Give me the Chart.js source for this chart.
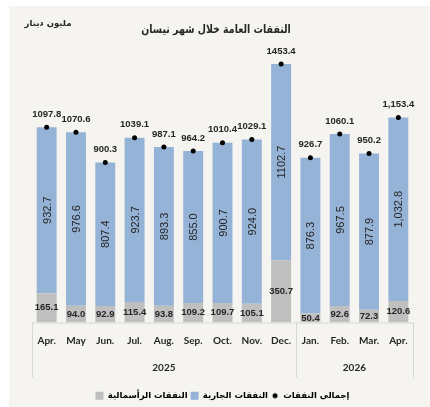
<!DOCTYPE html>
<html>
<head>
<meta charset="utf-8">
<script src="https://cdn.jsdelivr.net/npm/chart.js@4"></script>
<style>
  html, body { margin: 0; padding: 0; background: #ffffff; }
  #myChart { position: absolute; left: 0; top: 0; }
</style>
</head>
<body>
<canvas id="myChart" width="430" height="407"></canvas>
<script>
const months = ['Apr.', 'May', 'Jun.', 'Jul.', 'Aug.', 'Sep.', 'Oct.', 'Nov.', 'Dec.', 'Jan.', 'Feb.', 'Mar.', 'Apr.'];
const years = ['2025', '2026'];
const yearCounts = [9, 4];

const capital = [165.1, 94.0, 92.9, 115.4, 93.8, 109.2, 109.7, 105.1, 350.7, 50.4, 92.6, 72.3, 120.6];
const current = [932.7, 976.6, 807.4, 923.7, 893.3, 855.0, 900.7, 924.0, 1102.7, 876.3, 967.5, 877.9, 1032.8];
const total = [1097.8, 1070.6, 900.3, 1039.1, 987.1, 964.2, 1010.4, 1029.1, 1453.4, 926.7, 1060.1, 950.2, 1153.4];

const seriesNames = ['النفقات الرأسمالية', 'النفقات الجارية', 'إجمالي النفقات'];
const chartTitle = 'النفقات العامة خلال شهر نيسان';
const unitLabel = 'مليون دينار';

const BLUE = '#95b3d7';
const GREY = '#bfbfbf';
const TEXT = '#262626';
const LINE = '#d6d6d6';

// last column is written with a thousands separator in the original
function fmt(v, i) {
  if (i === months.length - 1) {
    return v.toLocaleString('en-US', { minimumFractionDigits: 1, maximumFractionDigits: 1 });
  }
  return v.toFixed(1);
}

// small dot used as legend symbol
const dotIcon = document.createElement('canvas');
dotIcon.width = 8;
dotIcon.height = 8;
(function () {
  const c = dotIcon.getContext('2d');
  c.fillStyle = '#000';
  c.beginPath();
  c.arc(4, 4, 2.5, 0, Math.PI * 2);
  c.fill();
})();

const background = {
  id: 'background',
  beforeDraw(chart) {
    const ctx = chart.ctx;
    ctx.save();
    ctx.fillStyle = '#ffffff';
    ctx.fillRect(0, 0, chart.width, chart.height);
    ctx.fillStyle = '#f5f4f0';
    ctx.fillRect(9, 6, chart.width - 9, chart.height - 6);
    ctx.fillStyle = TEXT;
    ctx.textAlign = 'center';
    ctx.textBaseline = 'middle';
    // title font in the original is tall and narrow
    ctx.save();
    ctx.translate(216, 30);
    ctx.scale(0.82, 1);
    ctx.font = 'bold 11.5px "DejaVu Sans"';
    ctx.fillText(chartTitle, 0, 0);
    ctx.restore();
    ctx.font = 'bold 8.5px "DejaVu Sans"';
    ctx.fillText(unitLabel, 48, 24);
    ctx.restore();
  }
};

const yearAxis = {
  id: 'yearAxis',
  afterDraw(chart) {
    const ctx = chart.ctx;
    const x = chart.scales.x;
    const area = chart.chartArea;
    const bottom = area.bottom + 55;
    ctx.save();
    ctx.strokeStyle = LINE;
    ctx.lineWidth = 1;
    ctx.beginPath();
    ctx.moveTo(area.left, area.bottom + 0.5);
    ctx.lineTo(area.right, area.bottom + 0.5);
    let start = 0;
    const edges = [area.left];
    yearCounts.forEach((n, k) => {
      const end = start + n - 1;
      const right = end === months.length - 1 ? area.right : (x.getPixelForValue(end) + x.getPixelForValue(end + 1)) / 2;
      edges.push(right);
      ctx.fillStyle = TEXT;
      ctx.font = 'bold 10px Lato';
      ctx.textAlign = 'center';
      ctx.textBaseline = 'middle';
      ctx.fillText(years[k], (x.getPixelForValue(start) + x.getPixelForValue(end)) / 2, area.bottom + 45);
      start = end + 1;
    });
    edges.forEach(e => {
      const px = Math.round(e) + 0.5;
      ctx.moveTo(px, area.bottom);
      ctx.lineTo(px, bottom);
    });
    ctx.stroke();
    ctx.restore();
  }
};

const valueLabels = {
  id: 'valueLabels',
  afterDatasetsDraw(chart) {
    const ctx = chart.ctx;
    const capMeta = chart.getDatasetMeta(0);
    const curMeta = chart.getDatasetMeta(1);
    const totMeta = chart.getDatasetMeta(2);
    ctx.save();
    ctx.fillStyle = TEXT;
    ctx.textAlign = 'center';
    ctx.textBaseline = 'middle';
    months.forEach((m, i) => {
      const cap = capMeta.data[i];
      ctx.font = 'bold 9.5px "Liberation Sans"';
      ctx.fillText(fmt(capital[i], i), cap.x, (cap.y + cap.base) / 2);

      const cur = curMeta.data[i];
      ctx.save();
      ctx.translate(cur.x, (cur.y + cur.base) / 2);
      ctx.rotate(-Math.PI / 2);
      ctx.font = '11px "Liberation Sans"';
      ctx.fillText(fmt(current[i], i), 0, 1);
      ctx.restore();

      const pt = totMeta.data[i];
      ctx.font = 'bold 9.5px "Liberation Sans"';
      ctx.fillText(fmt(total[i], i), pt.x, pt.y - 13);
    });
    ctx.restore();
  }
};

const data = {
  labels: months,
  datasets: [
    {
      type: 'bar',
      label: seriesNames[0],
      data: capital,
      backgroundColor: GREY,
      stack: 'bars',
      barPercentage: 0.68,
      categoryPercentage: 1.0
    },
    {
      type: 'bar',
      label: seriesNames[1],
      data: current,
      backgroundColor: BLUE,
      stack: 'bars',
      barPercentage: 0.68,
      categoryPercentage: 1.0
    },
    {
      type: 'line',
      label: seriesNames[2],
      data: total,
      stack: 'total',
      showLine: false,
      pointRadius: 2.5,
      pointBackgroundColor: '#000',
      pointBorderWidth: 0,
      order: -1
    }
  ]
};

const config = {
  type: 'bar',
  data: data,
  plugins: [background, yearAxis, valueLabels],
  options: {
    responsive: false,
    animation: false,
    devicePixelRatio: 1,
    layout: { padding: { left: 32, right: 17, top: 38, bottom: -3 } },
    scales: {
      x: {
        stacked: true,
        grid: { display: false, drawTicks: false },
        border: { display: false },
        ticks: {
          color: TEXT,
          font: { family: 'Lato', weight: 'bold', size: 10 },
          padding: 12,
          autoSkip: false,
          maxRotation: 0
        },
        afterFit(scale) { scale.height = 66; }
      },
      y: {
        display: false,
        stacked: true,
        min: 0,
        max: 1600
      }
    },
    plugins: {
      tooltip: { enabled: false },
      legend: {
        position: 'bottom',
        labels: {
          usePointStyle: true,
          boxWidth: 8,
          boxHeight: 8,
          padding: 3,
          color: TEXT,
          font: { family: 'DejaVu Sans', weight: 'bold', size: 8.5 },
          generateLabels() {
            return [
              { text: seriesNames[0], fillStyle: GREY, strokeStyle: GREY, lineWidth: 0, pointStyle: 'rect', datasetIndex: 0, hidden: false },
              { text: seriesNames[1], fillStyle: BLUE, strokeStyle: BLUE, lineWidth: 0, pointStyle: 'rect', datasetIndex: 1, hidden: false },
              { text: seriesNames[2], fillStyle: '#000', strokeStyle: '#000', lineWidth: 0, pointStyle: dotIcon, datasetIndex: 2, hidden: false }
            ];
          }
        }
      }
    }
  }
};

const myChart = new Chart(document.getElementById('myChart'), config);
</script>
</body>
</html>
